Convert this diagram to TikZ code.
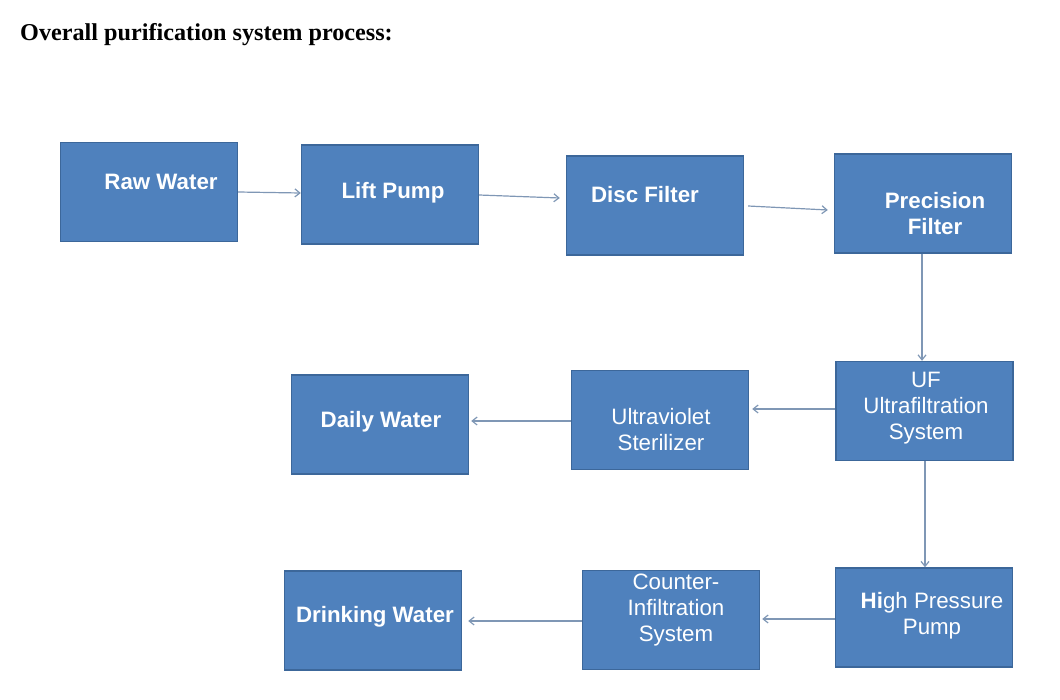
\documentclass[tikz,border=0pt]{standalone}
\usepackage{fontspec}
\setmainfont{Liberation Sans}
\newfontfamily\titlefont{Liberation Serif}
\usetikzlibrary{arrows.meta}
\definecolor{boxfill}{HTML}{4F81BD}
\definecolor{boxline}{HTML}{3C679A}
\definecolor{arrowcol}{HTML}{7F97B5}
\tikzset{
  procbox/.style={draw=boxline, line width=1.4pt, fill=boxfill, minimum width=177pt, minimum height=99pt, inner sep=0pt},
  boxtext/.style={text=white, font=\fontsize{22.3}{26}\selectfont, align=center, inner sep=0pt},
  boldtext/.style={boxtext, font=\fontsize{22.3}{26}\selectfont\bfseries},
  flow/.style={draw=arrowcol, line width=1.2pt, -{Straight Barb[length=5pt,width=8pt]}}
}
\begin{document}
\begin{tikzpicture}[x=1pt,y=-1pt]
\useasboundingbox (0,0) rectangle (1060,699);
\node[anchor=base west, font=\titlefont\fontsize{24.2}{28}\selectfont\bfseries, inner sep=0pt] (title) at (20,40) {Overall purification system process:};

% boxes (centres in pixels)
\node[procbox] (raw) at (149,192) {};
\node[procbox] (lift) at (390,194.5) {};
\node[procbox] (disc) at (655,205.5) {};
\node[procbox] (prec) at (923,203.5) {};
\node[procbox] (uf) at (924.5,411) {};
\node[procbox] (uv) at (660,420) {};
\node[procbox] (daily) at (380,424.5) {};
\node[procbox] (hpp) at (924,617.5) {};
\node[procbox] (ci) at (671,620) {};
\node[procbox] (drink) at (373,620.5) {};

% texts
\node[boldtext] (traw) at (161,182) {Raw Water};
\node[boldtext] (tlift) at (393,193) {Lift Pump};
\node[boldtext] (tdisc) at (645,195) {Disc Filter};
\node[boldtext] (tprec) at (935,214) {Precision\\Filter};
\node[boxtext] (tuf) at (926,408) {UF\\Ultrafiltration\\System};
\node[boxtext] (tuv) at (661,430) {Ultraviolet\\Sterilizer};
\node[boldtext] (tdaily) at (381,422) {Daily Water};
\node[boxtext] (thpp) at (932,616) {\textbf{Hi}gh Pressure\\Pump};
\node[boxtext] (tci) at (676,610) {Counter-\\Infiltration\\System};
\node[boldtext] (tdrink) at (375,617) {Drinking Water};

% connectors
\draw[flow] (raw.east |- 0,192) -- (lift.west |- 0,193);
\draw[flow] (lift.east |- 0,195) -- ([xshift=-6pt]disc.west |- 0,198);
\draw[flow] ([xshift=4pt]disc.east |- 0,206) -- ([xshift=-6pt]prec.west |- 0,210);
\draw[flow] (prec.south -| 922,0) -- (uf.north -| 922,0);
\draw[flow] (uf.west |- 0,409) -- ([xshift=3pt]uv.east |- 0,409);
\draw[flow] (uv.west |- 0,421) -- ([xshift=2pt]daily.east |- 0,421);
\draw[flow] (uf.south -| 925,0) -- (hpp.north -| 925,0);
\draw[flow] (hpp.west |- 0,619) -- ([xshift=2pt]ci.east |- 0,619);
\draw[flow] (ci.west |- 0,621) -- ([xshift=6pt]drink.east |- 0,621);
\end{tikzpicture}
\end{document}
